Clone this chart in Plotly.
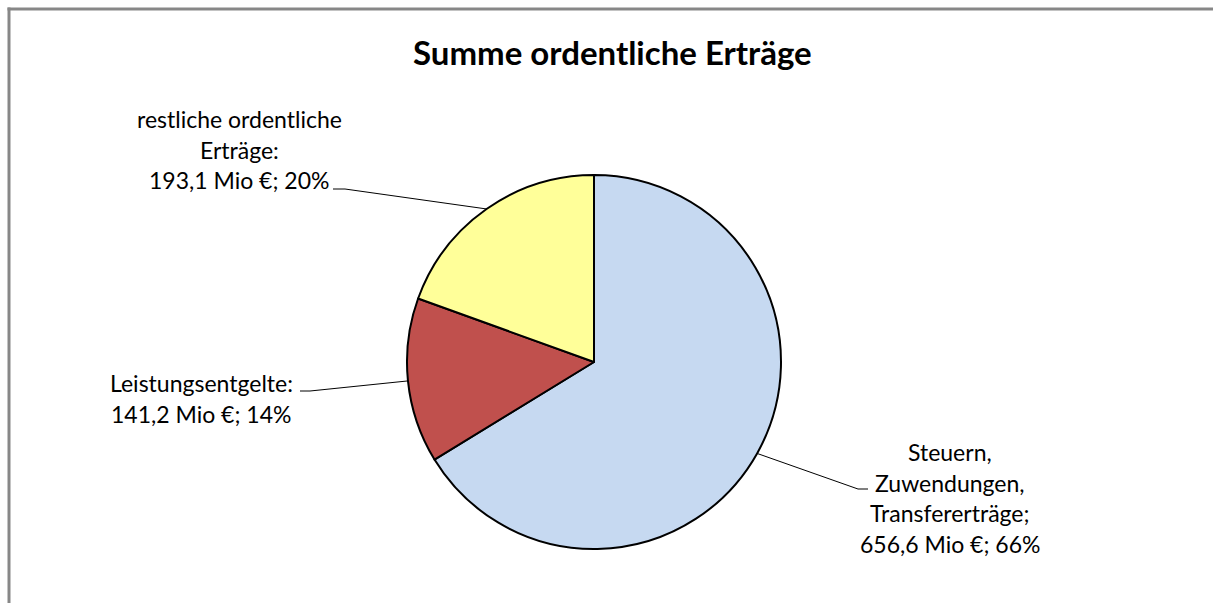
import math
import plotly.graph_objects as go

# ---- data ----
title_text = "Summe ordentliche Erträge"
categories = ["Steuern, Zuwendungen, Transfererträge", "Leistungsentgelte", "restliche ordentliche Erträge"]
values = [656.6, 141.2, 193.1]
label_lines = [
    ["Steuern,", "Zuwendungen,", "Transfererträge;", "656,6 Mio €; 66%"],
    ["Leistungsentgelte:", "141,2 Mio €; 14%"],
    ["restliche ordentliche", "Erträge:", "193,1 Mio €; 20%"],
]
colors = ["#C6D9F1", "#C0504D", "#FFFF99"]

# ---- layout / style ----
W, H = 1213, 603
CX, CY, R = 594, 362, 187          # pie centre & radius in pixels
FONT = "Lato"
LINE_SP = 30.5
# label block: (centre x, first line y) in pixels
label_pos = [(950, 452), (201, 383), (239, 119)]
# leader stub: (start x, y, stub end x)
stub = [(868, 489, 858), (300, 391, 310), (333, 189, 345)]

def px(x):
    return x / W

def py(y):
    return 1 - y / H

fig = go.Figure(go.Pie(
    labels=categories,
    values=values,
    sort=False,
    direction="clockwise",
    rotation=0,
    marker=dict(colors=colors, line=dict(color="#000000", width=2)),
    textinfo="none",
    hoverinfo="label+value+percent",
    showlegend=False,
    domain=dict(x=[px(CX - R), px(CX + R)], y=[py(CY + R), py(CY - R)]),
))

annotations = []
shapes = []

# title
annotations.append(dict(
    text="<b>" + title_text + "</b>", x=px(612), y=py(52), xref="paper", yref="paper",
    showarrow=False, xanchor="center", yanchor="middle",
    font=dict(family=FONT, size=33, color="#000000"),
))

# labels + leader lines (leader end computed from slice mid-angle)
total = sum(values)
cum = 0.0
for i, v in enumerate(values):
    mid = (cum + v / 2) / total * 2 * math.pi
    cum += v
    ex = CX + R * math.sin(mid)
    ey = CY - R * math.cos(mid)
    lx, ly = label_pos[i]
    for j, line in enumerate(label_lines[i]):
        annotations.append(dict(
            text=line, x=px(lx), y=py(ly + j * LINE_SP), xref="paper", yref="paper",
            showarrow=False, xanchor="center", yanchor="middle",
            font=dict(family=FONT, size=23, color="#000000"),
        ))
    sx, sy, sx2 = stub[i]
    shapes.append(dict(type="path", xref="paper", yref="paper",
                       path=f"M {px(sx)},{py(sy)} L {px(sx2)},{py(sy)} L {px(ex)},{py(ey)}",
                       line=dict(color="#000000", width=1)))

# chart border (only top and left edges are visible in the crop)
shapes.append(dict(type="line", xref="paper", yref="paper",
                   x0=px(9), y0=py(H + 5), x1=px(9), y1=py(7.5),
                   line=dict(color="#878787", width=3), layer="above"))
shapes.append(dict(type="line", xref="paper", yref="paper",
                   x0=px(7.5), y0=py(9), x1=px(W), y1=py(9),
                   line=dict(color="#878787", width=3), layer="above"))

fig.update_layout(
    width=W, height=H,
    margin=dict(l=0, r=0, t=0, b=0),
    paper_bgcolor="#FFFFFF",
    plot_bgcolor="#FFFFFF",
    annotations=annotations,
    shapes=shapes,
    font=dict(family=FONT),
)

fig.write_html("out.html", config={"displayModeBar": False})

# remove default page margin so the figure sits at the window origin
with open("out.html", encoding="utf-8") as f:
    html = f.read()
html = html.replace("<head>", "<head><style>html,body{margin:0;padding:0;overflow:hidden;}</style>", 1)
with open("out.html", "w", encoding="utf-8") as f:
    f.write(html)
